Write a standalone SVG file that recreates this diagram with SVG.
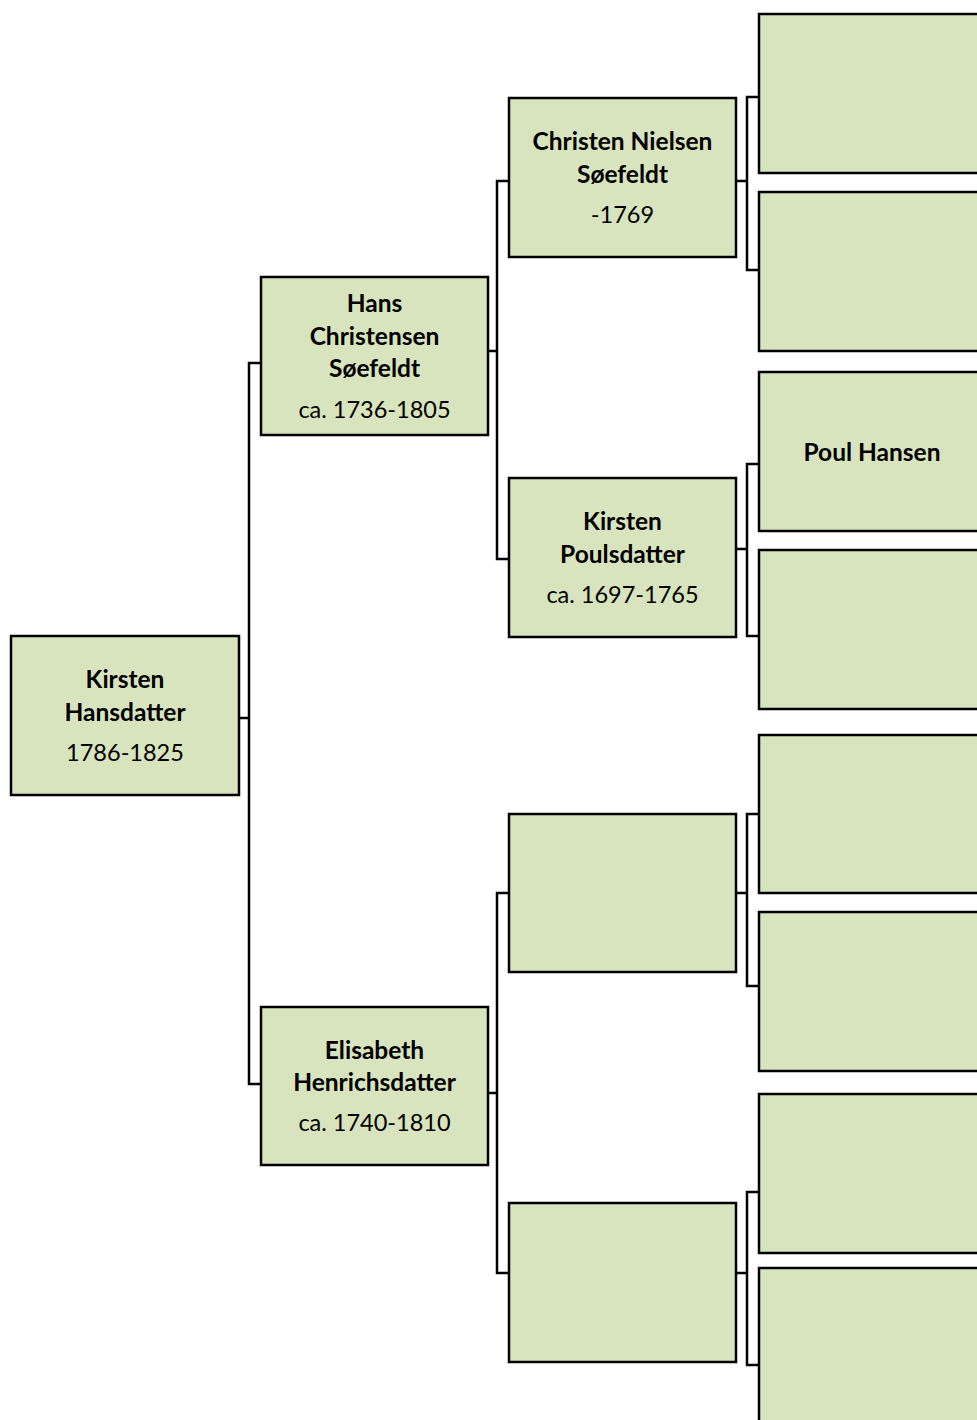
<svg xmlns="http://www.w3.org/2000/svg" width="977" height="1420" viewBox="0 0 977 1420">
<style>
.box{fill:#D7E4BD;stroke:#000;stroke-width:2.5}
.c{fill:none;stroke:#000;stroke-width:2.5}
text{font-family:Lato,"Liberation Sans",sans-serif;font-size:23.5px;fill:#000;text-anchor:middle}
.b{font-weight:bold;font-size:24.5px}
</style>
<rect width="977" height="1420" fill="#fff"/>
<g id="connectors">
<path class="c" d="M239,718H249M261,363H249V1084H261"/>
<path class="c" d="M488,351H497M509,181H497V559H509"/>
<path class="c" d="M488,1093H497M509,893H497V1273H509"/>
<path class="c" d="M736,181H747M759,97H747V270H759"/>
<path class="c" d="M736,549H747M759,464H747V636H759"/>
<path class="c" d="M736,893H747M759,814H747V986H759"/>
<path class="c" d="M736,1273H747M759,1192H747V1365H759"/>
</g>
<g id="n-root"><rect class="box" x="11" y="636" width="228" height="159"/>
<text class="b" x="125" y="688">Kirsten</text><text class="b" x="125" y="721">Hansdatter</text><text x="125" y="761">1786-1825</text></g>
<g id="n-hans"><rect class="box" x="261" y="277" width="227" height="158"/>
<text class="b" x="374.5" y="312">Hans</text><text class="b" x="374.5" y="345">Christensen</text><text class="b" x="374.5" y="377">Søefeldt</text><text x="374.5" y="418">ca. 1736-1805</text></g>
<g id="n-elisabeth"><rect class="box" x="261" y="1007" width="227" height="158"/>
<text class="b" x="374.5" y="1059">Elisabeth</text><text class="b" x="374.5" y="1091">Henrichsdatter</text><text x="374.5" y="1131">ca. 1740-1810</text></g>
<g id="n-christen"><rect class="box" x="509" y="98" width="227" height="159"/>
<text class="b" x="622.5" y="150">Christen Nielsen</text><text class="b" x="622.5" y="183">Søefeldt</text><text x="622.5" y="223">-1769</text></g>
<g id="n-kirstenp"><rect class="box" x="509" y="478" width="227" height="159"/>
<text class="b" x="622.5" y="530">Kirsten</text><text class="b" x="622.5" y="563">Poulsdatter</text><text x="622.5" y="603">ca. 1697-1765</text></g>
<g id="n-g2c"><rect class="box" x="509" y="814" width="227" height="158"/></g>
<g id="n-g2d"><rect class="box" x="509" y="1203" width="227" height="159"/></g>
<g id="n-g3a"><rect class="box" x="759" y="14" width="230" height="159"/></g>
<g id="n-g3b"><rect class="box" x="759" y="192" width="230" height="159"/></g>
<g id="n-poul"><rect class="box" x="759" y="372" width="230" height="159"/>
<text class="b" x="872" y="461">Poul Hansen</text></g>
<g id="n-g3d"><rect class="box" x="759" y="550" width="230" height="159"/></g>
<g id="n-g3e"><rect class="box" x="759" y="735" width="230" height="158"/></g>
<g id="n-g3f"><rect class="box" x="759" y="912" width="230" height="159"/></g>
<g id="n-g3g"><rect class="box" x="759" y="1094" width="230" height="159"/></g>
<g id="n-g3h"><rect class="box" x="759" y="1268" width="230" height="170"/></g>
</svg>
